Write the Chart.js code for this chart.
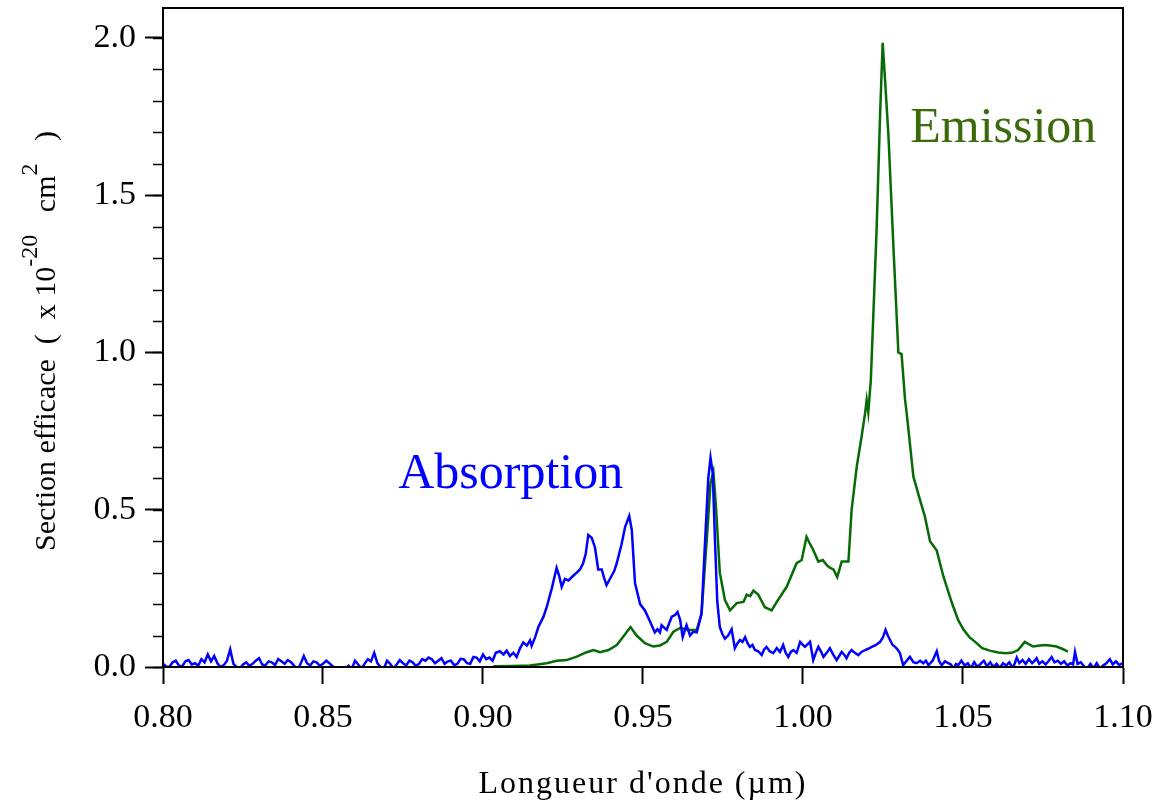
<!DOCTYPE html>
<html>
<head>
<meta charset="utf-8">
<script src="https://cdn.jsdelivr.net/npm/chart.js@4.4.1/dist/chart.umd.min.js"></script>
<style>
  html, body { margin: 0; padding: 0; background: #fff; }
  #wrap { width: 1161px; height: 805px; }
</style>
</head>
<body>
<div id="wrap"><canvas id="spectre" width="1161" height="805"></canvas></div>
<script>
// Longueur d'onde (µm) et section efficace (x 1e-20 cm2)
const absX = [
  0.800, 0.801, 0.802, 0.803, 0.804, 0.805, 0.806, 0.807, 0.808, 0.809,
  0.810, 0.811, 0.812, 0.813, 0.814, 0.815, 0.816, 0.817, 0.818, 0.819,
  0.820, 0.821, 0.822, 0.823, 0.824, 0.825, 0.826, 0.827, 0.828, 0.829,
  0.830, 0.831, 0.832, 0.833, 0.834, 0.835, 0.836, 0.837, 0.838, 0.839,
  0.840, 0.841, 0.842, 0.843, 0.844, 0.845, 0.846, 0.847, 0.848, 0.849,
  0.850, 0.851, 0.852, 0.853, 0.854, 0.855, 0.856, 0.857, 0.858, 0.859,
  0.860, 0.861, 0.862, 0.863, 0.864, 0.865, 0.866, 0.867, 0.868, 0.869,
  0.870, 0.871, 0.872, 0.873, 0.874, 0.875, 0.876, 0.877, 0.878, 0.879,
  0.880, 0.881, 0.882, 0.883, 0.884, 0.885, 0.886, 0.887, 0.888, 0.889,
  0.890, 0.891, 0.892, 0.893, 0.894, 0.895, 0.896, 0.897, 0.898, 0.899,
  0.900,
  0.901, 0.902, 0.903, 0.904, 0.9053, 0.9064, 0.9074, 0.9084,
  0.9095, 0.9105, 0.9116, 0.9126, 0.9137, 0.9147, 0.9152, 0.9163, 0.9173, 0.9189,
  0.9199, 0.9215, 0.9230, 0.9238, 0.9246, 0.9256, 0.9267, 0.9282, 0.9293, 0.9303,
  0.9313, 0.9321, 0.9329, 0.9340, 0.9350, 0.9360, 0.9371, 0.9378, 0.9386, 0.9394,
  0.9402, 0.9410, 0.9418, 0.9433, 0.9444, 0.9457, 0.9465, 0.9475, 0.9491, 0.9506,
  0.9522, 0.9537, 0.9545, 0.9553, 0.9558, 0.9566, 0.9574, 0.9582, 0.9590, 0.9600,
  0.9608, 0.9616, 0.9624, 0.9636, 0.9647, 0.9657, 0.9668, 0.9683, 0.9694, 0.9704,
  0.9711, 0.9718, 0.9725, 0.9732, 0.9740, 0.9748, 0.9756, 0.9766, 0.9777, 0.9787,
  0.9795, 0.9803, 0.9811, 0.9819, 0.9827, 0.9834, 0.9842, 0.9850, 0.9860, 0.9871,
  0.9878, 0.9886, 0.9896, 0.9907, 0.9918, 0.9928, 0.9938, 0.9946, 0.9954, 0.9962,
  0.9970, 0.9980, 0.9991, 1.0000, 1.0006, 1.0014, 1.0022, 1.0032, 1.0040, 1.0048,
  1.0056, 1.0064, 1.0074, 1.0084, 1.0094, 1.0105, 1.0113, 1.0121, 1.0128, 1.0136,
  1.0144, 1.0152, 1.0162, 1.0173, 1.0183, 1.0194, 1.0204, 1.0215, 1.0228, 1.0241,
  1.0250, 1.0258, 1.0265, 1.0272, 1.0280, 1.0288, 1.0296, 1.0303, 1.0313, 1.0324,
  1.0334, 1.0345, 1.0355, 1.0366, 1.0376, 1.0384, 1.0392, 1.0405, 1.0418, 1.0425,
  1.0433, 1.0444, 1.0454, 1.0462, 1.0470, 1.0478, 1.0485, 1.0495, 1.0505, 1.0515,
  1.0525, 1.0535, 1.0545, 1.0555, 1.0565, 1.0575, 1.0585, 1.0595, 1.0605, 1.0615,
  1.0625, 1.0635, 1.0645, 1.0655, 1.0662, 1.0668, 1.0676, 1.0686, 1.0696, 1.0706,
  1.0716, 1.0724, 1.0730, 1.0738, 1.0748, 1.0758, 1.0768, 1.0777, 1.0786, 1.0796,
  1.0806, 1.0816, 1.0826, 1.0836, 1.0844, 1.0850, 1.0858, 1.0868, 1.0878, 1.0888,
  1.0898, 1.0908, 1.0918, 1.0928, 1.0938, 1.0948, 1.0959, 1.0968, 1.0978, 1.0988,
  1.0998
];
const absY = [
  0.010, 0.002, 0.000, 0.015, 0.020, 0.004, 0.002, 0.018, 0.022, 0.008,
  0.012, 0.004, 0.025, 0.015, 0.040, 0.018, 0.035, 0.012, 0.000, 0.006,
  0.020, 0.056, 0.010, 0.000, -0.005, 0.008, 0.015, 0.004, 0.010, 0.020,
  0.028, 0.008, 0.005, 0.018, 0.015, 0.006, 0.025, 0.018, 0.010, 0.022,
  0.015, 0.004, -0.010, 0.010, 0.035, 0.012, 0.005, 0.018, 0.015, 0.004,
  0.010, 0.020, 0.012, 0.002, -0.005, -0.012, -0.010, -0.004, 0.004, -0.006,
  0.020, 0.008, -0.005, 0.010, 0.025, 0.018, 0.045, 0.012, 0.000, -0.006,
  0.020, 0.010, -0.005, 0.008, 0.022, 0.012, 0.005, 0.020, 0.015, 0.004,
  0.010, 0.025, 0.020, 0.030, 0.025, 0.012, 0.020, 0.028, 0.010, 0.018,
  0.020, 0.006, 0.010, 0.026, 0.025, 0.012, 0.010, 0.032, 0.030, 0.018,
  0.040,
  0.025, 0.030, 0.020, 0.045, 0.050, 0.040, 0.052, 0.035,
  0.045, 0.032, 0.060, 0.078, 0.068, 0.085, 0.067, 0.095, 0.127, 0.160,
  0.190, 0.250, 0.315, 0.290, 0.255, 0.280, 0.275, 0.290, 0.300, 0.310,
  0.330, 0.360, 0.420, 0.410, 0.380, 0.310, 0.310, 0.285, 0.260, 0.275,
  0.290, 0.305, 0.330, 0.390, 0.445, 0.480, 0.435, 0.267, 0.200, 0.180,
  0.145, 0.110, 0.120, 0.110, 0.133, 0.125, 0.118, 0.140, 0.160, 0.165,
  0.175, 0.150, 0.095, 0.133, 0.100, 0.112, 0.110, 0.170, 0.400, 0.600,
  0.665, 0.615, 0.400, 0.210, 0.127, 0.105, 0.090, 0.100, 0.120, 0.060,
  0.075, 0.086, 0.080, 0.095, 0.075, 0.064, 0.070, 0.054, 0.050, 0.038,
  0.055, 0.064, 0.050, 0.044, 0.060, 0.048, 0.070, 0.045, 0.032, 0.048,
  0.054, 0.045, 0.080, 0.070, 0.064, 0.072, 0.080, 0.022, 0.045, 0.064,
  0.050, 0.032, 0.045, 0.060, 0.040, 0.022, 0.035, 0.048, 0.040, 0.028,
  0.045, 0.054, 0.045, 0.038, 0.048, 0.054, 0.058, 0.064, 0.070, 0.080,
  0.095, 0.118, 0.100, 0.086, 0.070, 0.064, 0.055, 0.044, 0.006, 0.020,
  0.032, 0.015, 0.012, 0.020, 0.012, 0.020, 0.006, 0.020, 0.050, 0.020,
  0.006, 0.018, 0.012, 0.008, -0.005, 0.010, 0.006, 0.020, 0.005, 0.012,
  -0.004, 0.015, 0.000, 0.010, 0.020, 0.002, 0.015, 0.000, 0.010, -0.003,
  0.012, 0.005, 0.015, -0.004, 0.012, 0.030, 0.012, 0.022, 0.010, 0.025,
  0.012, 0.020, 0.028, 0.010, 0.018, 0.008, 0.020, 0.032, 0.015, 0.020,
  0.010, 0.018, 0.005, 0.012, 0.008, 0.048, 0.010, 0.015, 0.002, -0.005,
  0.010, -0.004, 0.012, -0.005, 0.005, 0.012, 0.025, 0.008, 0.018, 0.006,
  0.012
];

const emiX = [
  0.9032, 0.9090, 0.9147, 0.9199, 0.9230, 0.9261, 0.9293, 0.9324, 0.9345, 0.9366,
  0.9392, 0.9418, 0.9438, 0.9461, 0.9480, 0.9506, 0.9532, 0.9553, 0.9574, 0.9595,
  0.9616, 0.9647, 0.9668, 0.9683, 0.9699, 0.9711, 0.9720, 0.9728, 0.9740, 0.9756,
  0.9772, 0.9793, 0.9814, 0.9824, 0.9835, 0.9845, 0.9860, 0.9881, 0.9902, 0.9918,
  0.9949, 0.9980, 0.9996, 1.0011, 1.0020, 1.0032, 1.0048, 1.0062, 1.0074, 1.0085,
  1.0095, 1.0107, 1.0121, 1.0142, 1.0152, 1.0168, 1.0183, 1.0194, 1.0199, 1.0204,
  1.0212, 1.0220, 1.0230, 1.0241, 1.0249, 1.0256, 1.0267, 1.0282, 1.0298, 1.0308,
  1.0319, 1.0324, 1.0345, 1.0366, 1.0381, 1.0397, 1.0418, 1.0439, 1.0465, 1.0485,
  1.0502, 1.0520, 1.0538, 1.0560, 1.0584, 1.0610, 1.0635, 1.0655, 1.0672, 1.0693,
  1.0719, 1.0740, 1.0760, 1.0792, 1.0810, 1.0828
];
const emiY = [
  0.002, 0.003, 0.005, 0.012, 0.020, 0.022, 0.033, 0.047, 0.054, 0.047,
  0.054, 0.070, 0.096, 0.127, 0.100, 0.076, 0.065, 0.068, 0.080, 0.112,
  0.124, 0.118, 0.118, 0.170, 0.400, 0.585, 0.620, 0.510, 0.300, 0.213,
  0.180, 0.203, 0.207, 0.230, 0.225, 0.243, 0.230, 0.190, 0.180, 0.207,
  0.255, 0.330, 0.340, 0.414, 0.395, 0.372, 0.335, 0.340, 0.324, 0.315,
  0.310, 0.286, 0.335, 0.335, 0.500, 0.637, 0.732, 0.807, 0.849, 0.810,
  0.913, 1.125, 1.390, 1.760, 1.984, 1.873, 1.690, 1.348, 1.000, 0.995,
  0.849, 0.807, 0.605, 0.530, 0.478, 0.400, 0.370, 0.287, 0.205, 0.149,
  0.118, 0.095, 0.080, 0.060, 0.052, 0.046, 0.044, 0.046, 0.054, 0.080,
  0.065, 0.068, 0.070, 0.065, 0.058, 0.049
];

const xTickValues = [0.80, 0.85, 0.90, 0.95, 1.00, 1.05, 1.10];
const yTickValues = [0.0, 0.5, 1.0, 1.5, 2.0];
const yMinorStep = 0.1;

const serif = "'Liberation Serif', 'Times New Roman', serif";

const toPoints = (xs, ys) => xs.map((x, i) => ({ x: x, y: ys[i] }));

// cadre, petites graduations, titres et etiquettes
const decorPlugin = {
    id: 'decor',
    afterDraw(chart) {
        const ctx = chart.ctx;
        const area = chart.chartArea;
        const xs = chart.scales.x;
        const ys = chart.scales.y;
        ctx.save();

        // cadre du graphe
        ctx.strokeStyle = '#000';
        ctx.lineWidth = 2;
        ctx.strokeRect(area.left, area.top, area.right - area.left, area.bottom - area.top);

        // graduations mineures de l'axe y
        ctx.lineWidth = 1.5;
        for (let v = 0; v <= 2.0 + 1e-9; v += yMinorStep) {
            const py = Math.round(ys.getPixelForValue(v)) + 0.5;
            ctx.beginPath();
            ctx.moveTo(area.left - 10, py);
            ctx.lineTo(area.left, py);
            ctx.stroke();
        }

        // titre de l'axe x
        ctx.fillStyle = '#000';
        ctx.font = '32px ' + serif;
        ctx.textAlign = 'center';
        ctx.textBaseline = 'alphabetic';
        ctx.letterSpacing = '2px';
        ctx.fillText("Longueur d'onde (µm)", (area.left + area.right) / 2, 793);
        ctx.letterSpacing = '0px';

        // titre de l'axe y avec exposants
        const parts = [
            { t: 'Section efficace  (  x 10', sup: false },
            { t: '-20', sup: true },
            { t: '   cm', sup: false },
            { t: '2', sup: true },
            { t: '   )', sup: false }
        ];
        ctx.translate(47, 551);
        ctx.rotate(-Math.PI / 2);
        ctx.textAlign = 'left';
        ctx.textBaseline = 'middle';
        let pos = 0;
        parts.forEach(p => {
            ctx.font = (p.sup ? '24px ' : '30px ') + serif;
            ctx.fillText(p.t, pos, p.sup ? -16 : 0);
            pos += ctx.measureText(p.t).width;
        });
        ctx.restore();

        // etiquettes des courbes
        ctx.save();
        ctx.font = '50px ' + serif;
        ctx.textAlign = 'left';
        ctx.textBaseline = 'alphabetic';
        ctx.fillStyle = '#0000ff';
        ctx.fillText('Absorption', xs.getPixelForValue(0.8735), ys.getPixelForValue(0.57));
        ctx.fillStyle = '#3b6a0a';
        ctx.fillText('Emission', xs.getPixelForValue(1.0335), ys.getPixelForValue(1.67));
        ctx.restore();
    }
};

new Chart(document.getElementById('spectre'), {
    type: 'line',
    data: {
        datasets: [
            {
                label: 'Absorption',
                data: toPoints(absX, absY),
                borderColor: '#0000ff',
                borderWidth: 2.5,
                pointRadius: 0,
                tension: 0,
                fill: false
            },
            {
                label: 'Emission',
                data: toPoints(emiX, emiY),
                borderColor: '#066b06',
                borderWidth: 2.5,
                pointRadius: 0,
                tension: 0,
                fill: false
            }
        ]
    },
    options: {
        responsive: false,
        animation: false,
        layout: { autoPadding: false, padding: { left: 0, top: 8, right: 38, bottom: 0 } },
        plugins: {
            legend: { display: false },
            tooltip: { enabled: false }
        },
        scales: {
            x: {
                type: 'linear',
                min: 0.8,
                max: 1.1,
                border: { display: true, color: '#000', width: 2 },
                grid: { drawOnChartArea: false, drawTicks: true, tickLength: 17, tickWidth: 2, tickColor: '#000' },
                ticks: {
                    padding: 14,
                    color: '#000',
                    font: { family: serif, size: 34 },
                    maxRotation: 0,
                    autoSkip: false,
                    callback: v => v.toFixed(2)
                },
                afterBuildTicks: s => { s.ticks = xTickValues.map(v => ({ value: v })); },
                afterFit: s => {
                    s.height = 138;
                    s.paddingLeft = 0;
                    s.paddingRight = 0;
                }
            },
            y: {
                type: 'linear',
                min: 0,
                max: 2.095,
                border: { display: true, color: '#000', width: 2 },
                grid: { drawOnChartArea: false, drawTicks: true, tickLength: 18, tickWidth: 2, tickColor: '#000' },
                ticks: {
                    padding: 9,
                    color: '#000',
                    font: { family: serif, size: 34 },
                    autoSkip: false,
                    callback: v => v.toFixed(1)
                },
                afterBuildTicks: s => { s.ticks = yTickValues.map(v => ({ value: v })); },
                afterFit: s => {
                    s.width = 163;
                    s.paddingTop = 0;
                    s.paddingBottom = 0;
                }
            }
        }
    },
    plugins: [decorPlugin]
});
</script>
</body>
</html>
